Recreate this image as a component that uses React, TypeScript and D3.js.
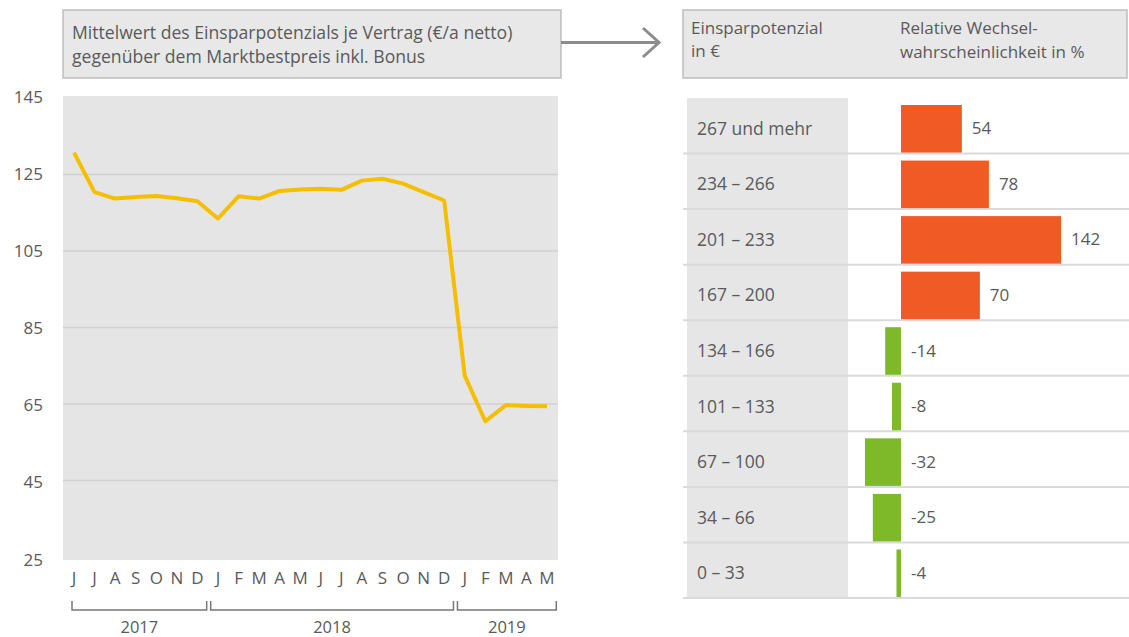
import { line, scaleBand, scaleLinear, scalePoint } from "d3";

const WIDTH = 1129;
const HEIGHT = 637;
const FONT = "'Open Sans', sans-serif";
const TEXT = "#5a5a5a";

// left chart: monthly mean saving potential
const months = ["J", "J", "A", "S", "O", "N", "D", "J", "F", "M", "A", "M", "J", "J", "A", "S", "O", "N", "D", "J", "F", "M", "A", "M"];
const savings = [130.7, 120.4, 118.7, 119.1, 119.4, 118.8, 118.0, 113.5, 119.3, 118.7, 120.7, 121.1, 121.3, 121.0, 123.4, 123.9, 122.6, 120.4, 118.2, 72.4, 60.5, 64.7, 64.5, 64.4];
const yTicks = [25, 45, 65, 85, 105, 125, 145];
const years = ["2017", "2018", "2019"];
const yearStart = [0, 7, 19];
const yearEnd = [6, 18, 23];

// right chart: switching probability per saving band
const bands = ["267 und mehr", "234 – 266", "201 – 233", "167 – 200", "134 – 166", "101 – 133", "67 – 100", "34 – 66", "0 – 33"];
const probability = [54, 78, 142, 70, -14, -8, -32, -25, -4];

const PLOT = { left: 63, right: 558, top: 97, bottom: 559 };

function App() {
  const keys = months.map((_, i) => String(i));
  const xScale = scalePoint<string>().domain(keys).range([74, 547]);
  const step = xScale.step();
  const yScale = scaleLinear().domain([25, 145]).range([PLOT.bottom - 2, PLOT.top + 1]);
  const linePath = line<number>()
    .x((_, i) => xScale(String(i)) as number)
    .y((d) => yScale(d));

  const rowScale = scaleBand().domain(bands).range([98, 598]);
  const barScale = scaleLinear().domain([0, 142]).range([901, 1061]);

  return (
    <div style={{ position: "absolute", left: 0, top: 0 }}>
      <svg width={WIDTH} height={HEIGHT} style={{ display: "block" }} fontFamily={FONT}>
        <rect width={WIDTH} height={HEIGHT} fill="#fff" />

        {/* title box + arrow */}
        <rect x={63} y={10} width={498} height={68} fill="#e8e8e8" stroke="#bdbdbd" strokeWidth={1.5} />
        <text x={72} y={39} fontSize={17.6} fill={TEXT}>Mittelwert des Einsparpotenzials je Vertrag (€/a netto)</text>
        <text x={72} y={63} fontSize={17.6} fill={TEXT}>gegenüber dem Marktbestpreis inkl. Bonus</text>
        <line x1={561} x2={658} y1={42.5} y2={42.5} stroke="#8c8c8c" strokeWidth={3} />
        <path d="M643,28 L659,42.5 L643,57" fill="none" stroke="#8c8c8c" strokeWidth={3} />

        {/* line chart */}
        <rect x={PLOT.left} y={PLOT.top - 1} width={PLOT.right - PLOT.left} height={PLOT.bottom - PLOT.top + 2} fill="#e5e5e5" />
        {yTicks.map((t) => (
          <g key={t}>
            {t > 25 && t < 145 && (
              <line x1={PLOT.left} x2={PLOT.right} y1={yScale(t)} y2={yScale(t)} stroke="#d0d0d0" strokeWidth={1.5} />
            )}
            <text x={43} y={yScale(t) - (t - 85) / 30} textAnchor="end" dominantBaseline="central" fontSize={17} fill={TEXT}>
              {t}
            </text>
          </g>
        ))}
        <path d={linePath(savings) ?? ""} fill="none" stroke="#f5bf00" strokeWidth={4} strokeLinejoin="round" />
        {months.map((m, i) => (
          <text key={i} x={xScale(String(i))} y={577} textAnchor="middle" dominantBaseline="central" fontSize={17} fill={TEXT}>
            {m}
          </text>
        ))}
        {years.map((yr, i) => {
          const x0 = i === 0 ? (xScale(String(yearStart[i])) as number) - 2 : (xScale(String(yearStart[i])) as number) - step / 2 + 3;
          const x1 = (xScale(String(yearEnd[i])) as number) + step / 2 - 1;
          return (
            <g key={yr}>
              <path d={`M${x0},601 V610 H${x1} V601`} fill="none" stroke="#777" strokeWidth={1.5} />
              <text x={(x0 + x1) / 2} y={626} textAnchor="middle" dominantBaseline="central" fontSize={16.5} fill={TEXT}>
                {yr}
              </text>
            </g>
          );
        })}

        {/* right header */}
        <rect x={683} y={10} width={444} height={68} fill="#e8e8e8" stroke="#bdbdbd" strokeWidth={1.5} />
        <text x={691} y={34} fontSize={17} fill={TEXT}>Einsparpotenzial</text>
        <text x={691} y={57} fontSize={17} fill={TEXT}>in €</text>
        <text x={900} y={34} fontSize={17} fill={TEXT}>Relative Wechsel-</text>
        <text x={900} y={58} fontSize={17} fill={TEXT}>wahrscheinlichkeit in %</text>

        {/* bar table */}
        <rect x={687} y={98} width={161} height={500} fill="#e6e6e6" />
        {bands.map((b, i) => {
          const y0 = rowScale(b) as number;
          const h = rowScale.bandwidth();
          const v = probability[i];
          const x0 = Math.min(barScale(0), barScale(v));
          const w = Math.abs(barScale(v) - barScale(0));
          return (
            <g key={b}>
              <line x1={683} x2={1129} y1={y0 + h} y2={y0 + h} stroke="#dadada" strokeWidth={2} />
              <rect x={x0} y={y0 + 7} width={w} height={h - 8} fill={v >= 0 ? "#f05a24" : "#7db928"} />
              <text x={697} y={y0 + h / 2 + 2} dominantBaseline="central" fontSize={17.5} fill={TEXT}>
                {b}
              </text>
              <text x={(v >= 0 ? barScale(v) : barScale(0)) + 10} y={y0 + h / 2 + 2} dominantBaseline="central" fontSize={17} fill={TEXT}>
                {v}
              </text>
            </g>
          );
        })}
      </svg>
    </div>
  );
}

export default App;
